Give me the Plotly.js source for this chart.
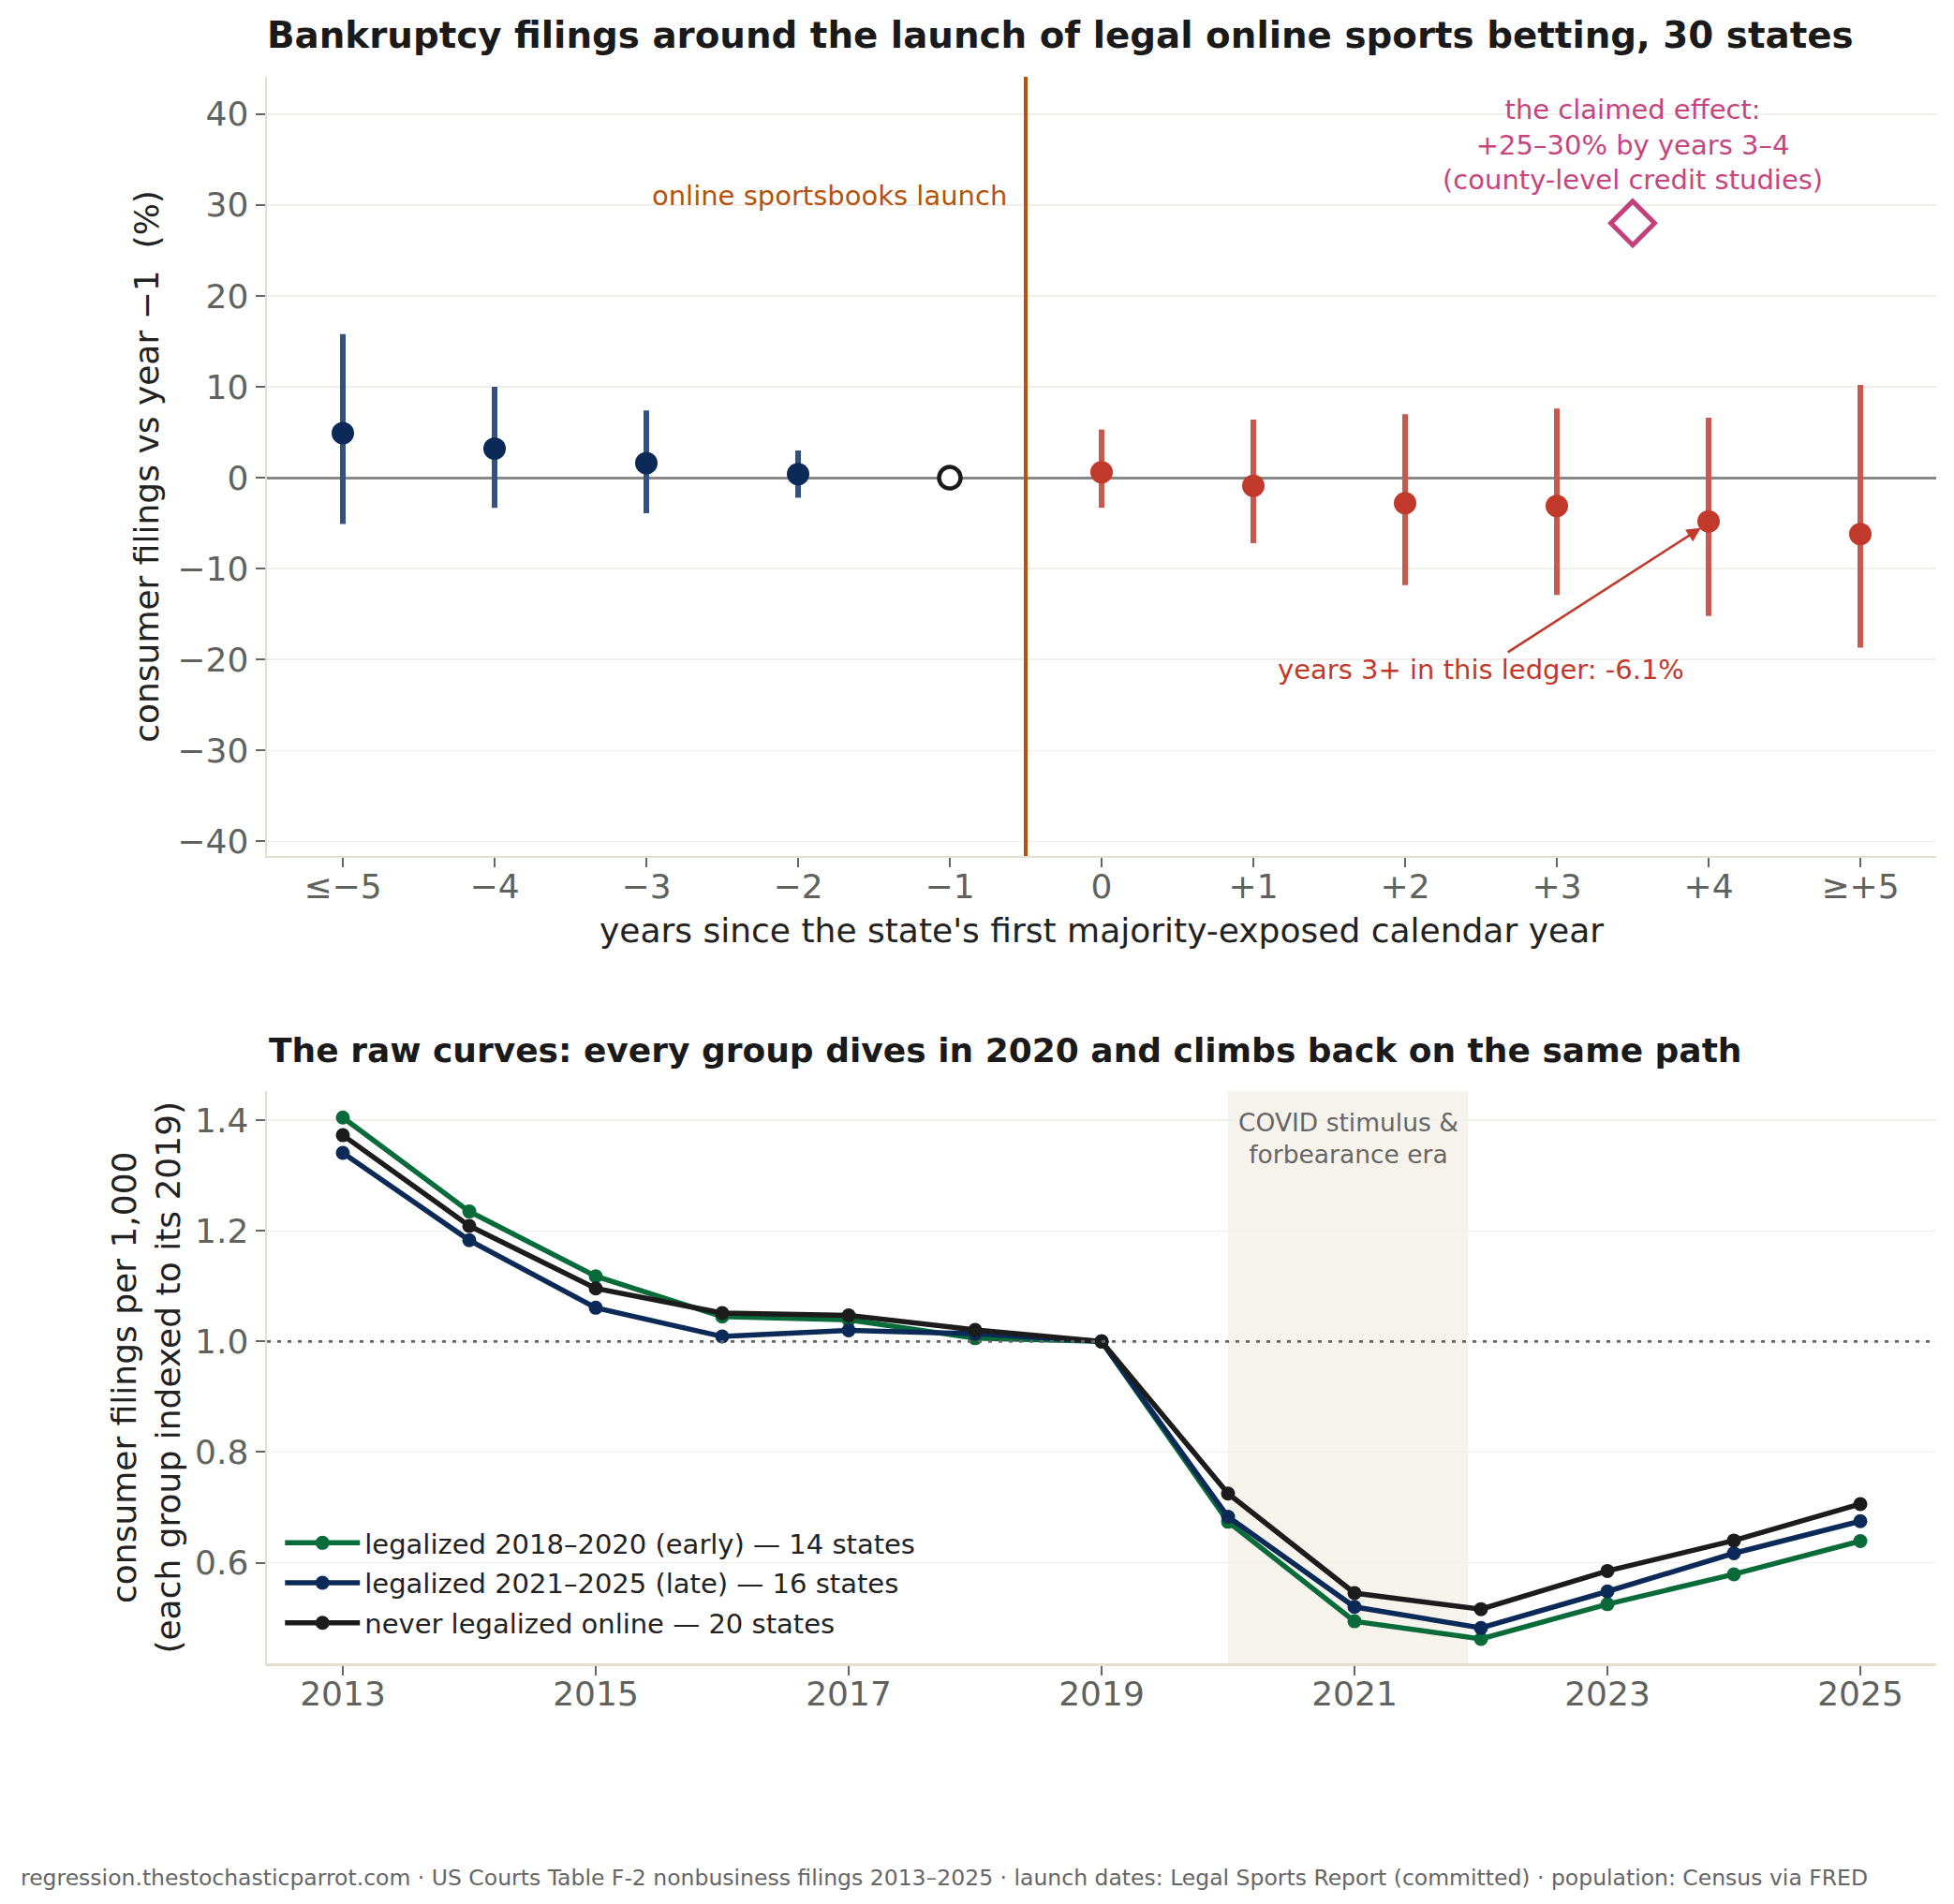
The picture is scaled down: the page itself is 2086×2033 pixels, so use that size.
<!DOCTYPE html>
<html>
<head>
<meta charset="utf-8">
<script src="https://cdn.plot.ly/plotly-3.0.1.min.js"></script>
<style>html,body{margin:0;padding:0;background:#fff;} #chart{width:2086px;height:2033px;}</style>
</head>
<body>
<div id="chart"></div>
<script>
// ---------- top panel data (event study) ----------
const eventLabels = ['≤−5','−4','−3','−2','−1','0','+1','+2','+3','+4','≥+5'];
const eventPos = [0,1,2,3,4,5,6,7,8,9,10];
const preIdx = [0,1,2,3];
const preEst = [4.9, 3.2, 1.6, 0.4];
const preLo  = [-5.1, -3.3, -3.9, -2.2];
const preHi  = [15.8, 10.0, 7.4, 3.0];
const refIdx = [4];
const refEst = [0];
const postIdx = [5,6,7,8,9,10];
const postEst = [0.6, -0.9, -2.8, -3.1, -4.8, -6.2];
const postLo  = [-3.3, -7.2, -11.8, -12.9, -15.2, -18.7];
const postHi  = [5.3, 6.4, 7.0, 7.6, 6.6, 10.2];
const claimX = [8.5];
const claimY = [28];
const launchX = 4.5;
const yTicksTop = [-40,-30,-20,-10,0,10,20,30,40];

// ---------- bottom panel data (raw curves) ----------
const years = [2013,2014,2015,2016,2017,2018,2019,2020,2021,2022,2023,2024,2025];
const earlyIdx = [1.405,1.235,1.118,1.045,1.039,1.006,1.000,0.674,0.494,0.462,0.525,0.579,0.639];
const lateIdx  = [1.341,1.183,1.061,1.009,1.020,1.014,1.000,0.683,0.520,0.482,0.548,0.617,0.675];
const neverIdx = [1.373,1.209,1.096,1.0515,1.047,1.021,1.000,0.725,0.545,0.516,0.585,0.640,0.706];
const seriesNames = ['legalized 2018–2020 (early) — 14 states','legalized 2021–2025 (late) — 16 states','never legalized online — 20 states'];
const covidStart = 2020, covidEnd = 2021.9;
const yTicksBottom = [0.6,0.8,1.0,1.2,1.4];
const xTicksBottom = [2013,2015,2017,2019,2021,2023,2025];

const FONT = 'DejaVu Sans, Liberation Sans, sans-serif';
const navy = '#0b2a58', navyBar = '#34527f';
const red = '#c0392b', redBar = '#c9584e';
const green = '#0a6b3a', black = '#1c1c1c';
const tickColor = '#5f625d';
const spine = '#e4dfcf';
const grid = '#f1efe9';

const up = (hi, est) => hi.map((h,i)=>h-est[i]);
const dn = (lo, est) => est.map((e,i)=>e-lo[i]);

const traces = [
  {x: preIdx, y: preEst, type:'scatter', mode:'markers', xaxis:'x', yaxis:'y', showlegend:false,
   marker:{color:navy, size:24},
   error_y:{type:'data', symmetric:false, array:up(preHi,preEst), arrayminus:dn(preLo,preEst), color:navyBar, thickness:6, width:0}},
  {x: refIdx, y: refEst, type:'scatter', mode:'markers', xaxis:'x', yaxis:'y', showlegend:false,
   marker:{color:'#ffffff', size:23, line:{color:'#1a1a1a', width:4.5}}},
  {x: postIdx, y: postEst, type:'scatter', mode:'markers', xaxis:'x', yaxis:'y', showlegend:false,
   marker:{color:red, size:24},
   error_y:{type:'data', symmetric:false, array:up(postHi,postEst), arrayminus:dn(postLo,postEst), color:redBar, thickness:6, width:0}},
  {x: claimX, y: claimY, type:'scatter', mode:'markers', xaxis:'x', yaxis:'y', showlegend:false,
   marker:{symbol:'diamond', color:'#ffffff', size:36, line:{color:'#c2417c', width:5}}},

  {x: years, y: earlyIdx, type:'scatter', mode:'lines+markers', xaxis:'x2', yaxis:'y2', name:seriesNames[0], legendgroup:'a',
   line:{color:green, width:5.5}, marker:{color:green, size:15}},
  {x: years, y: lateIdx, type:'scatter', mode:'lines+markers', xaxis:'x2', yaxis:'y2', name:seriesNames[1], legendgroup:'b',
   line:{color:navy, width:5.5}, marker:{color:navy, size:15}},
  {x: years, y: neverIdx, type:'scatter', mode:'lines+markers', xaxis:'x2', yaxis:'y2', name:seriesNames[2], legendgroup:'c',
   line:{color:black, width:5.5}, marker:{color:black, size:15}}
];

const axisCommon = {
  showline:true, linecolor:spine, linewidth:2.5, mirror:false,
  ticks:'outside', ticklen:10, tickwidth:2, tickcolor:'#666',
  tickfont:{family:FONT, size:36, color:tickColor},
  showgrid:true, gridcolor:grid, gridwidth:1.5, zeroline:false
};

const layout = {
  width:2086, height:2033,
  paper_bgcolor:'#ffffff', plot_bgcolor:'#ffffff',
  margin:{l:285, r:19, t:82, b:257},
  font:{family:FONT, color:'#222'},
  title:{text:'<b>Bankruptcy filings around the launch of legal online sports betting, 30 states</b>',
         font:{family:FONT, size:38.8, color:'#1a1a1a'}, xref:'paper', x:0, xanchor:'left',
         yref:'container', y:1-37/2033, yanchor:'middle'},
  xaxis: Object.assign({}, axisCommon, {
    domain:[0,1], anchor:'y', range:[-0.5,10.5], tickmode:'array', tickvals:eventPos, ticktext:eventLabels,
    showgrid:false, ticklabelstandoff:-11,
    title:{text:"years since the state's first majority-exposed calendar year", font:{family:FONT, size:36, color:'#222'}, standoff:15}
  }),
  yaxis: Object.assign({}, axisCommon, {
    domain:[0.5089,1], anchor:'x', range:[-41.6,44.1], tickmode:'array', tickvals:yTicksTop,
    ticktext: yTicksTop.map(v=> v<0 ? '−'+Math.abs(v) : String(v)),
    zeroline:true, zerolinecolor:'#888', zerolinewidth:3,
    title:{text:'consumer filings vs year −1  (%)', font:{family:FONT, size:36, color:'#222'}, standoff:9}
  }),
  xaxis2: Object.assign({}, axisCommon, {
    domain:[0,1], anchor:'y2', range:[2012.4,2025.6], tickmode:'array', tickvals:xTicksBottom,
    showgrid:false, ticklabelstandoff:-11
  }),
  yaxis2: Object.assign({}, axisCommon, {
    domain:[0,0.3604], anchor:'x2', range:[0.418,1.452], tickmode:'array', tickvals:yTicksBottom,
    tickformat:'.1f',
    title:{text:'consumer filings per 1,000<br>(each group indexed to its 2019)', font:{family:FONT, size:36, color:'#222'}, standoff:5}
  }),
  showlegend:true,
  legend:{x:0.008, xanchor:'left', y:0.0909, yanchor:'top', bgcolor:'rgba(255,255,255,0)', itemwidth:80,
          font:{family:FONT, size:29, color:'#222'}, traceorder:'grouped', tracegroupgap:2},
  shapes:[
    {type:'rect', xref:'x2', yref:'y2 domain', x0:covidStart, x1:covidEnd, y0:0, y1:1,
     fillcolor:'#f6f3ec', line:{width:0}, layer:'below'},
    {type:'line', xref:'x2 domain', yref:'y2', x0:0, x1:1, y0:1.0, y1:1.0,
     line:{color:'#666', width:2.7, dash:'4px,7px'}, layer:'above'},
    {type:'line', xref:'x', yref:'y domain', x0:launchX, x1:launchX, y0:0, y1:1,
     line:{color:'#b5520c', width:4}, layer:'above'}
  ],
  annotations:[
    {xref:'paper', yref:'paper', x:0, xanchor:'left', y:1-(1121-82)/1694, yanchor:'middle', showarrow:false,
     text:'<b>The raw curves: every group dives in 2020 and climbs back on the same path</b>',
     font:{family:FONT, size:36, color:'#1a1a1a'}},
    {xref:'x', yref:'y', x:4.39, y:31, xanchor:'right', yanchor:'middle', showarrow:false,
     text:'online sportsbooks launch', font:{family:FONT, size:29, color:'#b5520c'}},
    {xref:'x', yref:'y', x:8.5, y:36.6, xanchor:'center', yanchor:'middle', showarrow:false,
     text:'the claimed effect:<br>+25–30% by years 3–4<br>(county-level credit studies)',
     font:{family:FONT, size:29, color:'#c6457f'}},
    {xref:'x', yref:'y', x:8.97, y:-5.3, axref:'x', ayref:'y', ax:7.5, ay:-21.1,
     text:'years 3+ in this ledger: -6.1%', font:{family:FONT, size:29, color:red},
     showarrow:true, arrowhead:2, arrowsize:1.2, arrowwidth:2.5, arrowcolor:red, standoff:4},
    {xref:'x2', yref:'y2', x:2020.95, y:1.368, xanchor:'center', yanchor:'middle', showarrow:false,
     text:'COVID stimulus &<br>forbearance era', font:{family:FONT, size:26.5, color:'#666'}},
    {xref:'paper', yref:'paper', x:(20-285)/1782, xanchor:'left', y:1-(2005-82)/1694, yanchor:'middle', showarrow:false,
     text:'regression.thestochasticparrot.com · US Courts Table F-2 nonbusiness filings 2013–2025 · launch dates: Legal Sports Report (committed) · population: Census via FRED',
     font:{family:FONT, size:23.5, color:'#666'}}
  ]
};

Plotly.newPlot('chart', traces, layout, {displayModeBar:false, staticPlot:true});
</script>
</body>
</html>
